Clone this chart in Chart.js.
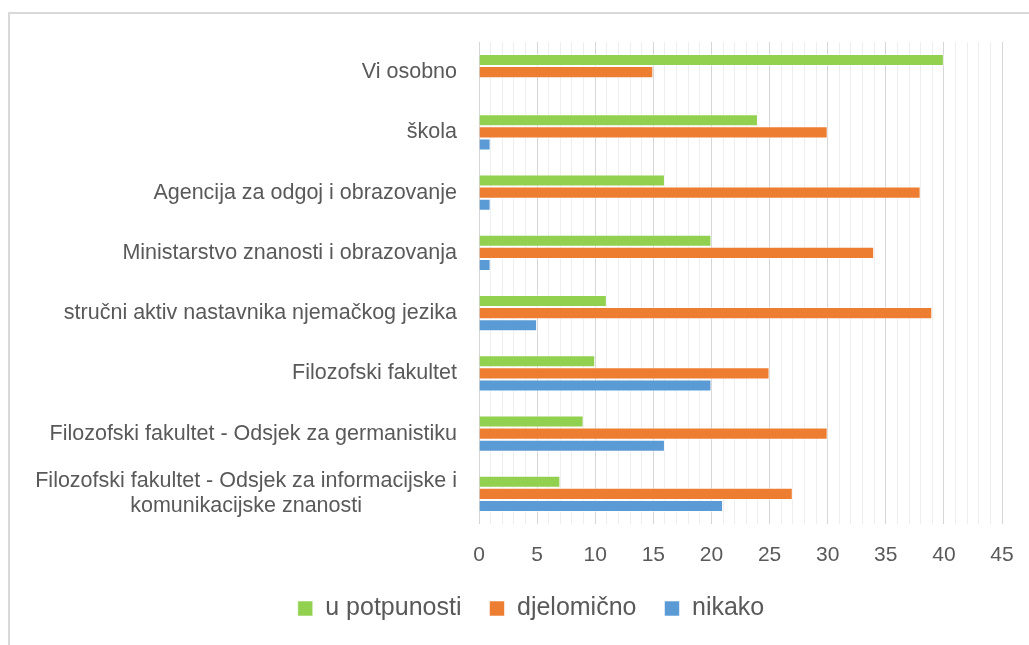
<!DOCTYPE html>
<html><head><meta charset="utf-8">
<script src="https://cdn.jsdelivr.net/npm/chart.js@4.4.1/dist/chart.umd.min.js"></script>
<style>
html,body{margin:0;padding:0;background:#fff;overflow:hidden;}
#wrap{position:relative;width:1029px;height:645px;overflow:hidden;}
#frame{position:absolute;left:8px;top:12px;width:1100px;height:700px;border:2px solid #d9d9d9;box-sizing:border-box;}
canvas{position:absolute;left:0;top:0;}
</style></head><body>
<div id="wrap"><div id="frame"></div><canvas id="c" width="1029" height="645"></canvas></div>
<script>
const categories = [
  'Vi osobno',
  'škola',
  'Agencija za odgoj i obrazovanje',
  'Ministarstvo znanosti i obrazovanja',
  'stručni aktiv nastavnika njemačkog jezika',
  'Filozofski fakultet',
  'Filozofski fakultet - Odsjek za germanistiku',
  ['Filozofski fakultet - Odsjek za informacijske i', 'komunikacijske znanosti']
];
const seriesNames = ['u potpunosti', 'djelomično', 'nikako'];
const uPotpunosti = [40, 24, 16, 20, 11, 10, 9, 7];
const djelomicno  = [15, 30, 38, 34, 39, 25, 30, 27];
const nikako      = [0, 1, 1, 1, 5, 20, 16, 21];
const xTickLabels = [0, 5, 10, 15, 20, 25, 30, 35, 40, 45];

const PLOT_LEFT = 479, PLOT_TOP = 42, PLOT_BOTTOM = 524;
const PAD_LEFT = 60, PAD_RIGHT = 27, PAD_BOTTOM = 14;

const catLabelPlugin = {
  id: 'catLabels',
  afterDraw(chart) {
    const ys = chart.scales.y, ctx = chart.ctx;
    ctx.save();
    ctx.font = '21.5px "Liberation Sans", Arial, sans-serif';
    ctx.fillStyle = '#595959';
    ctx.textBaseline = 'middle';
    const xr = chart.chartArea.left - 22;
    const lh = 25;
    chart.data.labels.forEach((lab, i) => {
      const lines = Array.isArray(lab) ? lab : [lab];
      const yc = ys.getPixelForValue(i);
      if (lines.length === 1) {
        ctx.textAlign = 'right';
        ctx.fillText(lines[0], xr, yc);
      } else {
        const w = Math.max(...lines.map(l => ctx.measureText(l).width));
        ctx.textAlign = 'center';
        lines.forEach((l, k) => ctx.fillText(l, xr - w / 2, yc + (k - (lines.length - 1) / 2) * lh));
      }
    });
    ctx.restore();
  }
};

new Chart(document.getElementById('c'), {
  type: 'bar',
  data: {
    labels: categories,
    datasets: [
      { label: seriesNames[0], data: uPotpunosti, backgroundColor: '#92D050' },
      { label: seriesNames[1], data: djelomicno, backgroundColor: '#ED7D31' },
      { label: seriesNames[2], data: nikako, backgroundColor: '#5B9BD5' }
    ].map(d => Object.assign(d, {
      borderColor: 'rgba(255,255,255,0.55)', borderWidth: 1,
      categoryPercentage: 0.6, barPercentage: 1.0
    }))
  },
  options: {
    indexAxis: 'y',
    responsive: false,
    animation: false,
    devicePixelRatio: 1,
    layout: { padding: { top: PLOT_TOP, left: PAD_LEFT, right: PAD_RIGHT, bottom: PAD_BOTTOM } },
    plugins: {
      tooltip: { enabled: false },
      legend: {
        position: 'bottom',
        labels: {
          font: { family: '"Liberation Sans", Arial, sans-serif', size: 25 },
          color: '#595959',
          boxWidth: 15, boxHeight: 15,
          padding: 28
        }
      }
    },
    scales: {
      x: {
        min: 0, max: 45,
        border: { display: false },
        grid: {
          drawTicks: true,
          tickLength: 16,
          tickColor: 'rgba(0,0,0,0)',
          color: c => (c.tick && c.tick.value % 5 === 0) ? '#d6d6d6' : '#eeeeee',
          lineWidth: 1
        },
        ticks: {
          stepSize: 1, autoSkip: false, maxRotation: 0,
          padding: 3,
          color: '#595959',
          font: { family: '"Liberation Sans", Arial, sans-serif', size: 21 },
          callback: v => xTickLabels.includes(v) ? String(v) : ''
        },
        afterFit(scale) {
          const lg = scale.chart.legend ? scale.chart.legend.height : 0;
          scale.height = scale.chart.height - PAD_BOTTOM - lg - PLOT_BOTTOM;
        }
      },
      y: {
        border: { display: false },
        grid: { display: false },
        ticks: { display: false },
        afterFit(scale) { scale.width = PLOT_LEFT - PAD_LEFT; }
      }
    }
  },
  plugins: [catLabelPlugin]
});
</script>
</body></html>
